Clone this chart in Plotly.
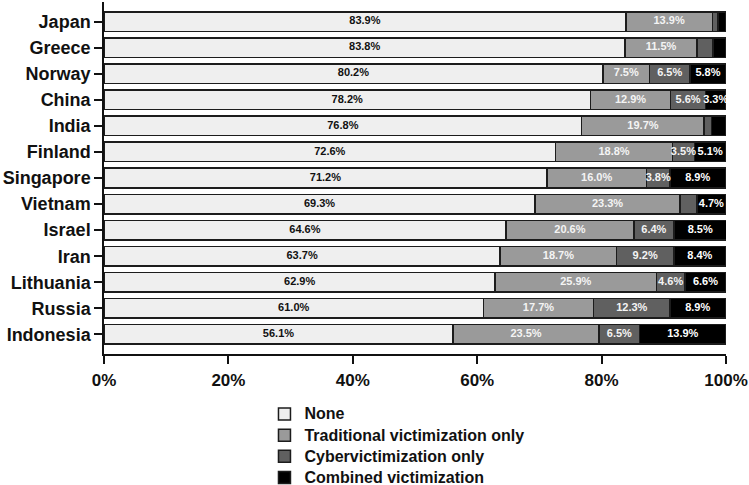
import plotly.graph_objects as go

countries = ["Japan", "Greece", "Norway", "China", "India", "Finland", "Singapore",
             "Vietnam", "Israel", "Iran", "Lithuania", "Russia", "Indonesia"]
none_vals = [83.9, 83.8, 80.2, 78.2, 76.8, 72.6, 71.2, 69.3, 64.6, 63.7, 62.9, 61.0, 56.1]
trad_vals = [13.9, 11.5, 7.5, 12.9, 19.7, 18.8, 16.0, 23.3, 20.6, 18.7, 25.9, 17.7, 23.5]
cyber_vals = [0.9, 2.6, 6.5, 5.6, 1.2, 3.5, 3.8, 2.7, 6.4, 9.2, 4.6, 12.3, 6.5]
comb_vals = [1.3, 2.1, 5.8, 3.3, 2.3, 5.1, 8.9, 4.7, 8.5, 8.4, 6.6, 8.9, 13.9]

x_tick_vals = [0, 20, 40, 60, 80, 100]
x_tick_text = ["0%", "20%", "40%", "60%", "80%", "100%"]

# which segments carry a printed label (small ones are unlabeled in the source)
trad_show = [True] * 13
cyber_show = [False, False, True, True, False, True, True, False, True, True, True, True, True]
comb_show = [False, False, True, True, False, True, True, True, True, True, True, True, True]

series = [
    ("None", none_vals, "#efefef", [True] * 13, "#111111"),
    ("Traditional victimization only", trad_vals, "#9a9a9a", trad_show, "#f4f4f4"),
    ("Cybervictimization only", cyber_vals, "#606060", cyber_show, "#f4f4f4"),
    ("Combined victimization", comb_vals, "#000000", comb_show, "#ffffff"),
]

fig = go.Figure()
base = [0.0] * len(countries)
for name, vals, color, show, tcolor in series:
    fig.add_trace(go.Bar(
        name='<span style="font-size:16px">' + name + '</span>',
        y=countries, x=vals, orientation="h",
        marker=dict(color=color, line=dict(color="#1c1c1c", width=1.5)),
        hoverinfo="x+y",
    ))
    mids = [b + v / 2 for b, v in zip(base, vals)]
    labels = [f"{v:.1f}%" if s else "" for v, s in zip(vals, show)]
    fig.add_trace(go.Scatter(
        x=mids, y=countries, mode="text", text=labels,
        textfont=dict(family="Arial", size=11, color=tcolor, weight="bold"),
        showlegend=False, hoverinfo="skip", cliponaxis=False,
    ))
    base = [b + v for b, v in zip(base, vals)]

font_family = "Arial, Liberation Sans, sans-serif"
fig.update_layout(
    width=749, height=500,
    margin=dict(l=104, r=23, t=2, b=146),
    barmode="stack", bargap=0.25,
    plot_bgcolor="white", paper_bgcolor="white",
    font=dict(family=font_family, color="#111111"),
    xaxis=dict(
        range=[0, 100], tickvals=x_tick_vals, ticktext=x_tick_text,
        showgrid=False, zeroline=False, showline=True, linecolor="#111111", linewidth=1.5,
        ticks="outside", ticklen=8, tickwidth=1.5, tickcolor="#111111",
        tickfont=dict(size=17, family=font_family, weight="bold"),
        ticklabelstandoff=2, automargin=False,
    ),
    yaxis=dict(
        categoryorder="array", categoryarray=countries[::-1],
        range=[-0.75, 12.75], autorange=False,
        showgrid=False, zeroline=False, showline=True, linecolor="#111111", linewidth=1.5,
        ticks="outside", ticklen=8, tickwidth=1.5, tickcolor="#111111",
        tickfont=dict(size=18, family=font_family, weight="bold"),
        automargin=False,
    ),
    legend=dict(
        x=0.258, y=-0.126, xanchor="left", yanchor="top",
        traceorder="normal", font=dict(size=14, family=font_family, weight="bold"),
        bgcolor="rgba(0,0,0,0)", itemwidth=30, tracegroupgap=0,
    ),
)

fig.write_html(
    "out.html",
    config={"displayModeBar": False},
    post_script="document.body.style.margin='0';document.body.style.overflow='hidden';",
)
